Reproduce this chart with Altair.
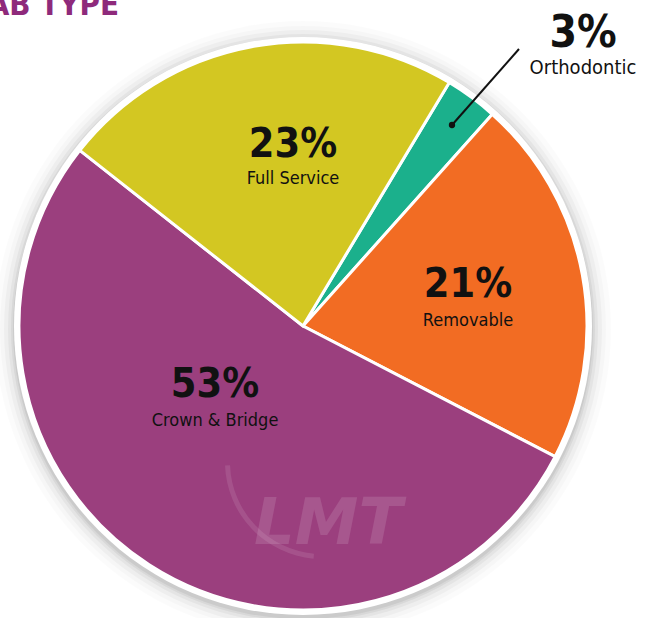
import math
import altair as alt
import pandas as pd

# ---- data ----
categories = ["Orthodontic", "Removable", "Crown & Bridge", "Full Service"]
values = [3, 21, 53, 23]
colors = ["#1bb08c", "#f26c23", "#9b3f7e", "#d3c722"]
pct_labels = ["3%", "21%", "53%", "23%"]

# ---- layout (pixels) ----
W, H = 650, 618
CX, CY, R = 303, 326, 284
START = math.radians(31)
FONT = "DejaVu Sans Condensed"

# label anchor points (center x, baseline of the percentage, baseline of the name)
lab_x = [583, 468, 215, 293]
lab_pct_y = [47, 297, 397, 157]
lab_name_y = [74, 326, 426, 184]
pct_size = [44, 41, 41, 41]
name_size = [20, 18, 18, 18]

df = pd.DataFrame({"category": categories, "value": values,
                   "idx": list(range(len(categories)))})
lab = pd.DataFrame({"pct": pct_labels, "name": categories, "x": lab_x,
                    "py": lab_pct_y, "ny": lab_name_y,
                    "ps": pct_size, "ns": name_size})
one = pd.DataFrame({"k": [0]})  # single row for decorative marks

shadows = [
    alt.Chart(one).mark_arc(theta=0, theta2=2 * math.pi, color="#000000",
                            opacity=op)
    .encode(x=alt.value(CX), y=alt.value(CY + 3), radius=alt.value(R + dr))
    for dr, op in [(24, 0.015), (19, 0.02), (15, 0.03), (11, 0.04), (8, 0.05), (6, 0.06)]
]

ring = alt.Chart(one).mark_arc(theta=0, theta2=2 * math.pi, color="#ffffff").encode(
    x=alt.value(CX), y=alt.value(CY), radius=alt.value(R + 5))

pie = alt.Chart(df).mark_arc(stroke="#ffffff", strokeWidth=3).encode(
    theta=alt.Theta("value:Q", stack=True,
                    scale=alt.Scale(range=[START, START + 2 * math.pi])),
    color=alt.Color("category:N", scale=alt.Scale(domain=categories, range=colors),
                    legend=None),
    order=alt.Order("idx:Q"),
    x=alt.value(CX), y=alt.value(CY), radius=alt.value(R),
)

logo = alt.Chart(one).mark_text(text="LMT", font="DejaVu Sans", fontSize=64,
                                fontWeight="bold", fontStyle="italic",
                                color="#ffffff", opacity=0.12,
                                align="center", baseline="alphabetic").encode(
    x=alt.value(328), y=alt.value(544))

logo_swoosh = alt.Chart(one).mark_arc(theta=math.radians(185), theta2=math.radians(268),
                                      innerRadius=92, outerRadius=97,
                                      color="#ffffff", opacity=0.1).encode(
    x=alt.value(322), y=alt.value(462))

pct = alt.Chart(lab).mark_text(font=FONT, fontWeight="bold", color="#111111",
                               align="center", baseline="alphabetic").encode(
    x=alt.X("x:Q", scale=None), y=alt.Y("py:Q", scale=None),
    text="pct:N", size=alt.Size("ps:Q", scale=None, legend=None))

names = alt.Chart(lab).mark_text(font=FONT, color="#111111",
                                 align="center", baseline="alphabetic").encode(
    x=alt.X("x:Q", scale=None), y=alt.Y("ny:Q", scale=None),
    text="name:N", size=alt.Size("ns:Q", scale=None, legend=None))

leader = alt.Chart(one).mark_rule(color="#111111", strokeWidth=2).encode(
    x=alt.value(452), y=alt.value(125), x2=alt.value(519), y2=alt.value(49))
dot = alt.Chart(one).mark_point(filled=True, color="#111111", size=40, opacity=1).encode(
    x=alt.value(452), y=alt.value(125))

title = alt.Chart(one).mark_text(text="LAB TYPE", font="DejaVu Sans Condensed",
                                 fontWeight="bold", fontSize=31, color="#8e2a7b",
                                 align="right", baseline="alphabetic").encode(
    x=alt.value(119), y=alt.value(15))

chart = alt.layer(*shadows, ring, pie, logo_swoosh, logo, pct, names, leader, dot, title).properties(
    width=W, height=H, padding=0, autosize=alt.AutoSizeParams(type="none"),
    background="#ffffff",
).configure_view(stroke=None)

chart.save("out.html", embed_options={"renderer": "svg", "actions": False})
